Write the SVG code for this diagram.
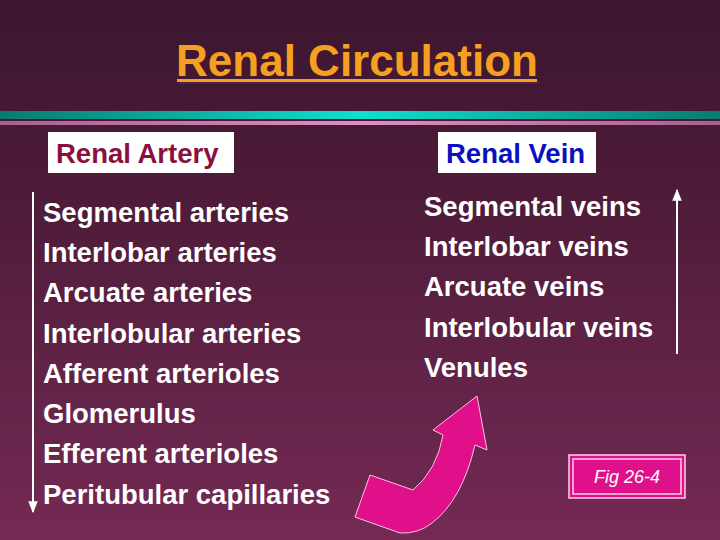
<svg xmlns="http://www.w3.org/2000/svg" width="720" height="540" viewBox="0 0 720 540">
<defs>
<linearGradient id="bg" x1="0" y1="0" x2="0" y2="1"><stop offset="0" stop-color="#3c1630"/><stop offset="0.3" stop-color="#4a1a36"/><stop offset="1" stop-color="#742a54"/></linearGradient>
<linearGradient id="teal" x1="0" y1="0" x2="1" y2="0"><stop offset="0" stop-color="#0a7a70"/><stop offset="0.5" stop-color="#10e0d0"/><stop offset="1" stop-color="#0a7a70"/></linearGradient>
<linearGradient id="pink" x1="0" y1="0" x2="1" y2="0"><stop offset="0" stop-color="#a86090"/><stop offset="0.5" stop-color="#e090c0"/><stop offset="1" stop-color="#a86090"/></linearGradient>
<marker id="ah" viewBox="0 0 10 10" refX="9" refY="5" markerWidth="6" markerHeight="6" orient="auto"><path d="M0,1 L10,5 L0,9 Z" fill="#fff"/></marker>
</defs>
<style>
.t{font-family:"Liberation Sans",Arial,sans-serif;font-weight:bold;fill:#fff;font-size:27.5px}
.h{font-family:"Liberation Sans",Arial,sans-serif;font-weight:bold;font-size:27.5px}
</style>
<rect width="720" height="540" fill="url(#bg)"/>
<rect x="0" y="111" width="720" height="8" fill="url(#teal)"/>
<rect x="0" y="121" width="720" height="4" fill="url(#pink)"/>
<g id="title">
<rect x="179" y="81" width="360" height="3" fill="#50204a"/>
<text x="357" y="76" text-anchor="middle" class="h" style="font-size:44px" fill="#f5a020">Renal Circulation</text>
<rect x="177" y="79" width="360" height="3" fill="#f5a020"/>
</g>
<g id="artery-header"><rect x="48" y="132" width="186" height="41" fill="#fff"/><text x="56" y="163" class="h" fill="#8a1040">Renal Artery</text></g>
<g id="vein-header"><rect x="438" y="132" width="158" height="41" fill="#fff"/><text x="446" y="163" class="h" fill="#0a10c0">Renal Vein</text></g>
<g id="artery-list">
<text x="43" y="222" class="t">Segmental arteries</text>
<text x="43" y="262" class="t">Interlobar arteries</text>
<text x="43" y="302" class="t">Arcuate arteries</text>
<text x="43" y="343" class="t">Interlobular arteries</text>
<text x="43" y="383" class="t">Afferent arterioles</text>
<text x="43" y="423" class="t">Glomerulus</text>
<text x="43" y="463" class="t">Efferent arterioles</text>
<text x="43" y="504" class="t">Peritubular capillaries</text>
</g>
<g id="vein-list">
<text x="424" y="216" class="t">Segmental veins</text>
<text x="424" y="256" class="t">Interlobar veins</text>
<text x="424" y="296" class="t">Arcuate veins</text>
<text x="424" y="337" class="t">Interlobular veins</text>
<text x="424" y="377" class="t">Venules</text>
</g>
<g id="connectors" stroke="#fff" stroke-width="2" fill="none">
<line x1="33" y1="192" x2="33" y2="512" marker-end="url(#ah)"/>
<line x1="677" y1="354" x2="677" y2="190" marker-end="url(#ah)"/>
<path d="M370,475 L413,490 Q437,470 443,435 L433,430 L477,396 L487,450 L475,445 Q462,500 432,523 Q418,534 400,533 L355,517 Z" fill="#e0108a" stroke="#ffc0e0" stroke-width="1"/>
</g>
<g id="fig">
<rect x="569" y="455" width="116" height="43" fill="#e0108a" stroke="#ffd0ea" stroke-width="1.5"/>
<rect x="573" y="459" width="108" height="35" fill="none" stroke="#ffd0ea" stroke-width="1.5"/>
<text x="627" y="483" text-anchor="middle" font-family="Liberation Sans,Arial,sans-serif" font-style="italic" font-size="18" fill="#fff">Fig 26-4</text>
</g>
</svg>
